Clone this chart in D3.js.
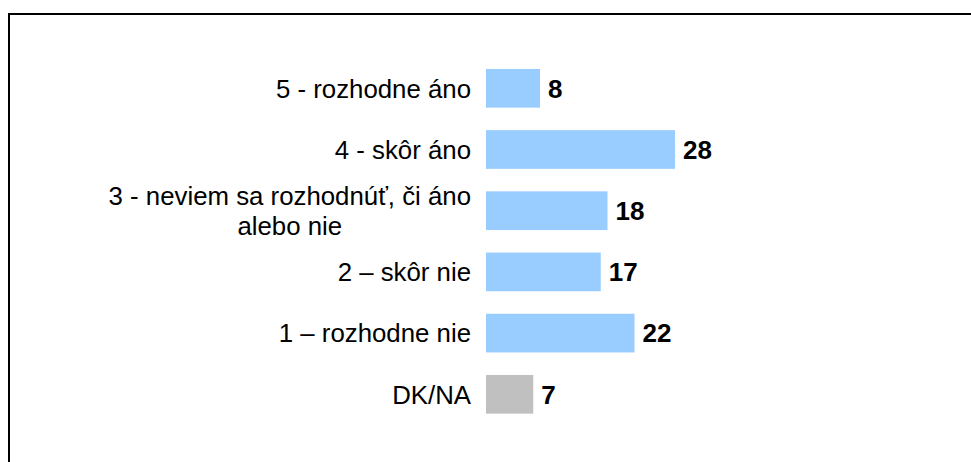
<!DOCTYPE html>
<html>
<head>
<meta charset="utf-8">
<script src="https://cdn.jsdelivr.net/npm/d3@7"></script>
<style>
  body { margin: 0; background: #fff; }
  svg { display: block; }
</style>
</head>
<body>
<script>
// answer categories (top to bottom) and shares in %
var categories = [
  "5 - rozhodne áno",
  "4 - skôr áno",
  "3 - neviem sa rozhodnúť, či áno\nalebo nie",
  "2 – skôr nie",
  "1 – rozhodne nie",
  "DK/NA"
];
var values = [8, 28, 18, 17, 22, 7];
var colors = ["#99ccff", "#99ccff", "#99ccff", "#99ccff", "#99ccff", "#c0c0c0"];

var w = 971;
var h = 462;
var font = "Arial, 'Liberation Sans', sans-serif";

var svg = d3.select("body").append("svg")
  .attr("width", w)
  .attr("height", h);

// frame, right and bottom edges run off the picture
svg.append("rect")
  .attr("x", 9)
  .attr("y", 14)
  .attr("width", 980)
  .attr("height", 470)
  .style("fill", "none")
  .style("stroke", "#000")
  .style("stroke-width", 2);

var x = d3.scaleLinear()
  .domain([0, 40])
  .range([486, 756]);

var y = d3.scaleBand()
  .domain(d3.range(categories.length))
  .range([57.7, 424.9])
  .paddingInner(0.368)
  .paddingOuter(0.184);

var rows = svg.selectAll("g.row")
  .data(values)
  .enter()
  .append("g")
  .attr("class", "row");

rows.append("rect")
  .attr("x", x(0))
  .attr("y", function(d, i) { return y(i); })
  .attr("width", function(d) { return x(d) - x(0); })
  .attr("height", y.bandwidth())
  .style("fill", function(d, i) { return colors[i]; });

// value labels
rows.append("text")
  .text(function(d) { return d; })
  .attr("x", function(d) { return x(d) + 8; })
  .attr("y", function(d, i) { return y(i) + y.bandwidth() / 2; })
  .attr("dy", "0.36em")
  .style("font-family", font)
  .style("font-size", "26px")
  .style("font-weight", "bold")
  .style("fill", "#000");

// category labels, wrapped ones are centred as a block right of x=471
var labelRight = 471;
rows.append("text")
  .attr("text-anchor", "middle")
  .style("font-family", font)
  .style("font-size", "25.8px")
  .style("fill", "#000")
  .each(function(d, i) {
    var lines = categories[i].split("\n");
    var cy = y(i) + y.bandwidth() / 2;
    var lh = 30;
    var t = d3.select(this);
    var spans = lines.map(function(line, k) {
      return t.append("tspan")
        .attr("y", cy + (k - (lines.length - 1) / 2) * lh)
        .attr("dy", "0.36em")
        .text(line);
    });
    var maxW = d3.max(spans, function(s) { return s.node().getComputedTextLength(); });
    spans.forEach(function(s) { s.attr("x", labelRight - maxW / 2); });
  });
</script>
</body>
</html>
